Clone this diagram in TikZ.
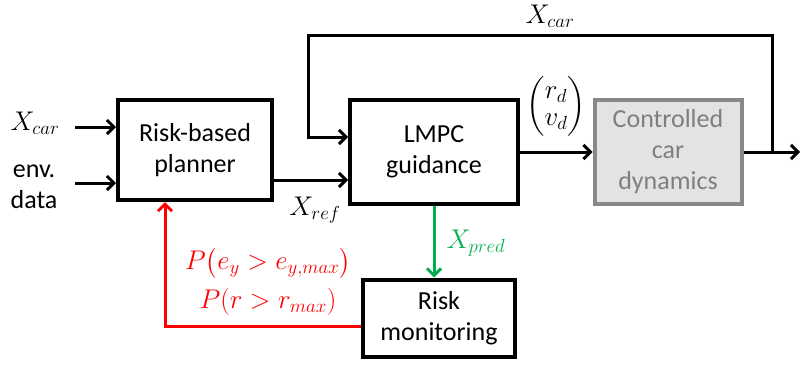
\RequirePackage{fix-cm}
\documentclass[tikz,border=0pt]{standalone}
\usepackage{amsmath}
\usepackage{fontspec}
\setmainfont{Carlito}
\usetikzlibrary{arrows.meta}
\definecolor{boxgray}{HTML}{E3E3E3}
\definecolor{bordgray}{HTML}{888888}
\definecolor{txtgray}{HTML}{7F7F7F}
\definecolor{mygreen}{HTML}{00B050}
\definecolor{myred}{HTML}{FF0000}
\tikzset{
  blockbox/.style={draw=black, line width=4pt, inner sep=0pt, align=center,
    font=\fontsize{26}{31}\selectfont},
  graybox/.style={blockbox, draw=bordgray, fill=boxgray, text=txtgray},
  lbl/.style={font=\fontsize{26}{31}\selectfont, align=center, inner sep=0pt},
  mlbl/.style={font=\fontsize{27}{31}\selectfont, align=center, inner sep=0pt},
  arr/.style={line width=3pt, -{Straight Barb[length=7pt,width=14pt,line width=3pt]}}
}
\begin{document}
\begin{tikzpicture}[x=1pt,y=-1pt]
\useasboundingbox (0,0) rectangle (800,367);
% blocks
\node[blockbox, minimum width=154pt, minimum height=100pt] (planner) at (195,150) {Risk-based\\planner};
\node[blockbox, minimum width=168pt, minimum height=104pt] (lmpc) at (434,152) {LMPC\\guidance};
\node[graybox, minimum width=147pt, minimum height=104pt] (car) at (668,152) {Controlled\\car\\dynamics};
\node[blockbox, minimum width=152pt, minimum height=77pt] (risk) at (439,318) {Risk\\monitoring};
% input labels
\node[mlbl] (xcarin) at (35,123) {$X_{car}$};
\node[lbl] (envdata) at (34,187) {env.\\data};
\coordinate (in1) at (75,127);
\coordinate (in2) at (75,183);
\draw[arr] (in1) -- (in1 -| planner.west);
\draw[arr] (in2) -- (in2 -| planner.west);
% planner -> lmpc
\coordinate (pl) at ([yshift=-30pt]planner.east);
\draw[arr] (pl) -- (pl -| lmpc.west);
\node[mlbl] (xref) at (315,210) {$X_{ref}$};
% lmpc -> car
\draw[arr] (lmpc.east) -- (car.west);
\node[mlbl] (rdvd) at (556,106) {$\begin{pmatrix} r_d\\[-4pt] v_d\end{pmatrix}$};
% output and feedback loop
\coordinate (junc) at (772,152);
\coordinate (outp) at (800,152);
\coordinate (tl) at (308,35);
\draw[arr] (car.east) -- (outp);
\coordinate (lin) at ([yshift=15pt]lmpc.west);
\draw[arr] (junc) |- (tl) |- (lin);
\node[mlbl] (xcartop) at (550,16) {$X_{car}$};
% green
\draw[arr, draw=mygreen] (lmpc.south) -- (lmpc.south |- risk.north);
\node[mlbl, text=mygreen] (xpred) at (476,243) {$X_{pred}$};
% red
\coordinate (rr) at ([yshift=-8pt]risk.west);
\coordinate (pb) at ([xshift=-30pt]planner.south);
\draw[arr, draw=myred] (rr) -| (pb);
\node[mlbl, text=myred] (p1) at (268,263) {$P\big(e_y > e_{y,max}\big)$};
\node[mlbl, text=myred] (p2) at (268,302) {$P(r > r_{max})$};
\end{tikzpicture}
\end{document}
